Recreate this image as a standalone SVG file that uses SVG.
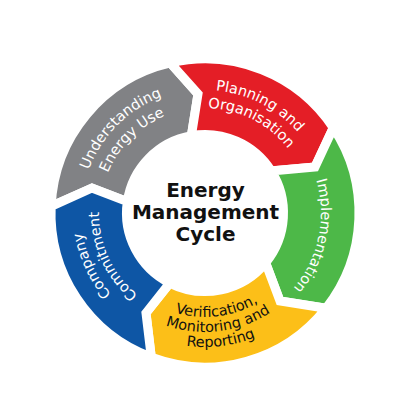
<svg xmlns="http://www.w3.org/2000/svg" xmlns:xlink="http://www.w3.org/1999/xlink" width="400" height="400" viewBox="0 0 400 400">
<style>
.seg{stroke:#fff;stroke-width:9;stroke-linejoin:miter}
.lbl{font-family:"DejaVu Sans","Verdana",sans-serif;font-size:14.5px;fill:#fff}
.dark{fill:#111}
.title{font-family:"DejaVu Sans","Verdana",sans-serif;font-size:20px;font-weight:bold;fill:#111;text-anchor:middle}
</style>
<defs>
<path id="g1" d="M85.23,245.09 A124,124 0 0 1 237.09,93.23"/>
<path id="g2" d="M103.58,240.17 A105,105 0 0 1 232.17,111.58"/>
<path id="r1" d="M138.01,109.84 A123,123 0 0 1 327.83,206.56"/>
<path id="r2" d="M147.82,124.94 A105,105 0 0 1 309.86,207.5"/>
<path id="gr1" d="M266.47,114.63 A116,116 0 0 1 221.15,327.87"/>
<path id="y1" d="M116.81,268.11 A104,104 0 0 0 303.91,245.14"/>
<path id="y2" d="M104.09,276.06 A119,119 0 0 0 318.18,249.77"/>
<path id="y3" d="M91.37,284.01 A134,134 0 0 0 332.45,254.41"/>
<path id="b1" d="M194.19,336.53 A124,124 0 0 1 103.42,141.87"/>
<path id="b2" d="M195.76,318.6 A106,106 0 0 1 118.16,152.2"/>
</defs>
<rect width="400" height="400" fill="#fff"/>
<g id="understanding">
<path class="seg" fill="#818285" d="M51.15,206.28 A154,154 0 0 1 170.35,62.94 L198,94 L191.37,135.69 A78.5,78.5 0 0 0 127.32,201.67 L92,188 Z"/>
<text class="lbl" text-anchor="middle"><textPath href="#g1" xlink:href="#g1" startOffset="50%">Understanding</textPath></text>
<text class="lbl" text-anchor="middle"><textPath href="#g2" xlink:href="#g2" startOffset="50%">Energy Use</textPath></text>
</g>
<g id="planning">
<path class="seg" fill="#e41e26" d="M170.35,62.94 A154,154 0 0 1 333.27,127.78 L315,167 L271.28,170.94 A78.5,78.5 0 0 0 191.37,135.69 L198,94 Z"/>
<text class="lbl" text-anchor="middle"><textPath href="#r1" xlink:href="#r1" startOffset="50%">Planning and</textPath></text>
<text class="lbl" text-anchor="middle"><textPath href="#r2" xlink:href="#r2" startOffset="50%">Organisation</textPath></text>
</g>
<g id="implementation">
<path class="seg" fill="#4db848" d="M333.27,127.78 A154,154 0 0 1 326.03,308.23 L280,301 L265.66,262.82 A78.5,78.5 0 0 0 271.28,170.94 L315,167 Z"/>
<text class="lbl" text-anchor="middle"><textPath href="#gr1" xlink:href="#gr1" startOffset="50%">Implementation</textPath></text>
</g>
<g id="verification">
<path class="seg" fill="#fcbf18" d="M326.03,308.23 A154,154 0 0 1 151.32,357.34 L146,313 L169.73,283.13 A78.5,78.5 0 0 0 265.66,262.82 L280,301 Z"/>
<text class="lbl dark" text-anchor="middle"><textPath href="#y1" xlink:href="#y1" startOffset="50%">Verification,</textPath></text>
<text class="lbl dark" text-anchor="middle"><textPath href="#y2" xlink:href="#y2" startOffset="50%">Monitoring and</textPath></text>
<text class="lbl dark" text-anchor="middle"><textPath href="#y3" xlink:href="#y3" startOffset="50%">Reporting</textPath></text>
</g>
<g id="commitment">
<path class="seg" fill="#0e56a5" d="M151.32,357.34 A154,154 0 0 1 51.15,206.28 L92,188 L127.32,201.67 A78.5,78.5 0 0 0 169.73,283.13 L146,313 Z"/>
<text class="lbl" text-anchor="middle"><textPath href="#b1" xlink:href="#b1" startOffset="50%">Company</textPath></text>
<text class="lbl" text-anchor="middle"><textPath href="#b2" xlink:href="#b2" startOffset="50%">Commitment</textPath></text>
</g>
<g id="center">
<text class="title" x="205.5" y="197">Energy</text>
<text class="title" x="205.5" y="219">Management</text>
<text class="title" x="205.5" y="241">Cycle</text>
</g>
</svg>
